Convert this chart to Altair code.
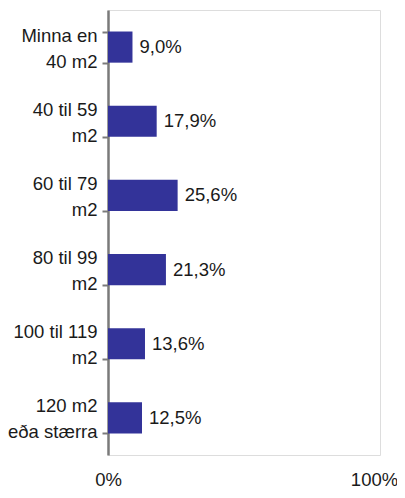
import altair as alt
import pandas as pd

categories = ["Minna en|40 m2", "40 til 59|m2", "60 til 79|m2", "80 til 99|m2", "100 til 119|m2", "120 m2|eða stærra"]
values = [9.0, 17.9, 25.6, 21.3, 13.6, 12.5]
x_ticks = [0, 100]

df = pd.DataFrame({"cat": categories, "val": values})

FONT = "'Liberation Sans', Arial, sans-serif"
FS = 18.5
BAR = "#333399"
TXT = "#1a1a1a"
GRID = "#737a88"
AXC = "#7a7a7a"

base = alt.Chart(df).encode(
    y=alt.Y("cat:N", sort=categories,
            scale=alt.Scale(paddingInner=0.58, paddingOuter=0.29),
            axis=alt.Axis(title=None,
                          labelExpr="isValid(datum.value) ? split(datum.value, '|') : ''",
                          labelFont=FONT, labelFontSize=FS, labelColor=TXT,
                          labelLineHeight=26, labelPadding=5, labelAlign="right",
                          labelBaseline="middle", labelOffset=-12,
                          tickBand="extent", tickSize=6, tickColor=AXC, tickWidth=2,
                          domainColor=AXC, domainWidth=2.5)),
)

bars = base.mark_bar(color=BAR).encode(
    x=alt.X("val:Q", scale=alt.Scale(domain=[0, 100], nice=False),
            axis=alt.Axis(title=None, values=x_ticks, labelExpr="datum.value + '%'",
                          labelFont=FONT, labelFontSize=FS, labelColor=TXT,
                          labelPadding=15, ticks=False, domain=False, grid=False,
                          labelOffset={"condition": {"test": "datum.value == 100", "value": -6}, "value": 0},
                          labelFlush=False, labelOverlap=False)),
)

labels = base.mark_text(align="left", baseline="middle", dx=7, font=FONT,
                        fontSize=FS, color=TXT).encode(
    x=alt.X("val:Q"),
    text=alt.Text("lbl:N"),
).transform_calculate(lbl="replace(format(datum.val, '.1f'), '.', ',') + '%'")

chart = (bars + labels).properties(
    width=272, height=445,
    autosize=alt.AutoSizeParams(type="none"),
    padding={"left": 100, "top": 2, "right": 17, "bottom": 35},
).configure_view(stroke=GRID, strokeWidth=2.5, strokeOpacity=1).configure(background="white")

chart.save("out.html", embed_options={"renderer": "svg", "actions": False})
